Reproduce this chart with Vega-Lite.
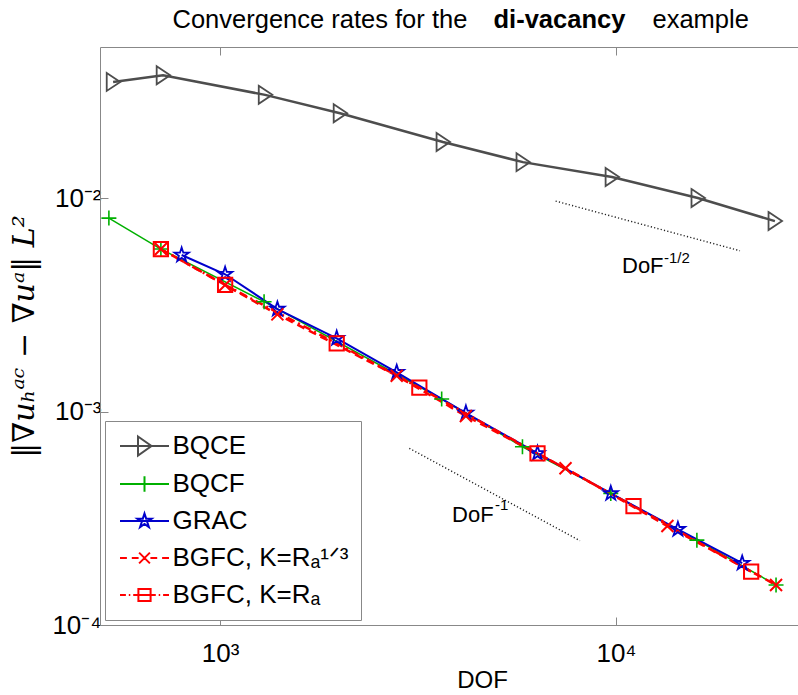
{
  "$schema": "https://vega.github.io/schema/vega-lite/v6.json",
  "width": 698,
  "height": 578,
  "autosize": {"type": "none"},
  "padding": {"left": 100, "top": 47, "right": 0, "bottom": 70},
  "background": "white",
  "config": {
    "view": {"stroke": null},
    "font": "Liberation Sans",
    "axis": {"grid": false, "tickSize": -8, "tickColor": "#888888", "domainColor": "#888888", "labelFont": "Liberation Sans", "labelFontSize": 26, "labelColor": "black", "labelFlush": false, "labelOverlap": false, "titleColor": "black", "titleFontWeight": "normal"},
    "axisLeft": {"labelPadding": 7, "titleFont": "DejaVu Serif", "titleFontSize": 30, "titleFontStyle": "italic", "titlePadding": 12},
    "axisBottom": {"labelPadding": 23, "titleFont": "Liberation Sans", "titleFontSize": 24},
    "axisTop": {"titleFont": "Liberation Sans", "titleFontSize": 25.5}
  },
  "datasets": {
    "series": [
      {"s": "BQCE", "dof": 537, "err": 0.0352},
      {"s": "BQCE", "dof": 718, "err": 0.0378},
      {"s": "BQCE", "dof": 1300, "err": 0.0306},
      {"s": "BQCE", "dof": 2010, "err": 0.0251},
      {"s": "BQCE", "dof": 3656, "err": 0.0184},
      {"s": "BQCE", "dof": 5820, "err": 0.0148},
      {"s": "BQCE", "dof": 9770, "err": 0.0126},
      {"s": "BQCE", "dof": 16100, "err": 0.01004},
      {"s": "BQCE", "dof": 25200, "err": 0.00783},
      {"s": "BQCF", "dof": 524, "err": 0.00809},
      {"s": "BQCF", "dof": 709, "err": 0.00579},
      {"s": "BQCF", "dof": 1292, "err": 0.00328},
      {"s": "BQCF", "dof": 3629, "err": 0.001147},
      {"s": "BQCF", "dof": 5805, "err": 0.000685},
      {"s": "BQCF", "dof": 9703, "err": 0.000414},
      {"s": "BQCF", "dof": 16008, "err": 0.00025},
      {"s": "BQCF", "dof": 25365, "err": 0.000154},
      {"s": "GRAC", "dof": 800, "err": 0.00543},
      {"s": "GRAC", "dof": 1030, "err": 0.00441},
      {"s": "GRAC", "dof": 1396, "err": 0.00303},
      {"s": "GRAC", "dof": 1971, "err": 0.00221},
      {"s": "GRAC", "dof": 2794, "err": 0.00153},
      {"s": "GRAC", "dof": 4178, "err": 0.000986},
      {"s": "GRAC", "dof": 6336, "err": 0.000638},
      {"s": "GRAC", "dof": 9703, "err": 0.000414},
      {"s": "GRAC", "dof": 14333, "err": 0.000281},
      {"s": "GRAC", "dof": 20830, "err": 0.000195},
      {"s": "BGFC, K=Rₐ¹ᐟ³", "dof": 709, "err": 0.00579},
      {"s": "BGFC, K=Rₐ¹ᐟ³", "dof": 1030, "err": 0.00393},
      {"s": "BGFC, K=Rₐ¹ᐟ³", "dof": 1396, "err": 0.00286},
      {"s": "BGFC, K=Rₐ¹ᐟ³", "dof": 2794, "err": 0.001475},
      {"s": "BGFC, K=Rₐ¹ᐟ³", "dof": 4178, "err": 0.000955},
      {"s": "BGFC, K=Rₐ¹ᐟ³", "dof": 7456, "err": 0.000543},
      {"s": "BGFC, K=Rₐ¹ᐟ³", "dof": 13487, "err": 0.000291},
      {"s": "BGFC, K=Rₐ¹ᐟ³", "dof": 25365, "err": 0.000154},
      {"s": "BGFC, K=Rₐ", "dof": 709, "err": 0.00579},
      {"s": "BGFC, K=Rₐ", "dof": 1030, "err": 0.00393},
      {"s": "BGFC, K=Rₐ", "dof": 1971, "err": 0.00209},
      {"s": "BGFC, K=Rₐ", "dof": 3187, "err": 0.001296},
      {"s": "BGFC, K=Rₐ", "dof": 6336, "err": 0.000638},
      {"s": "BGFC, K=Rₐ", "dof": 11072, "err": 0.000361},
      {"s": "BGFC, K=Rₐ", "dof": 21947, "err": 0.000178}
    ],
    "ref": [
      {"g": "half", "dof": 7039, "err": 0.009723},
      {"g": "half", "dof": 20564, "err": 0.005685},
      {"g": "one", "dof": 3006, "err": 0.0006737},
      {"g": "one", "dof": 8111, "err": 0.0002484}
    ],
    "ann": [
      {"dof": 10356, "err": 0.00447, "t": "DoF"},
      {"dof": 3854, "err": 0.000304, "t": "DoF"}
    ],
    "sup": [
      {"dof": 13215, "err": 0.004979, "t": "-1/2"},
      {"dof": 4948, "err": 0.000346, "t": "-1"}
    ]
  },
  "resolve": {"axis": {"x": "independent"}},
  "layer": [
    {
      "data": {"name": "ref"},
      "mark": {"type": "line", "color": "#222222", "strokeWidth": 1.4, "strokeDash": [1.2, 2.2]},
      "encoding": {
        "x": {"field": "dof", "type": "quantitative", "scale": {"type": "log", "domain": [497.6, 28820], "nice": false, "zero": false},
          "axis": {"orient": "top", "values": [1000, 10000], "labels": false, "title": "di-vacancy", "titleFontWeight": "bold", "titleX": 393, "titleY": -20, "titleAlign": "left", "titleBaseline": "alphabetic"}},
        "y": {"field": "err", "type": "quantitative", "scale": {"type": "log", "domain": [0.0001, 0.0513], "nice": false, "zero": false},
          "axis": {"orient": "left", "values": [0.0001, 0.001, 0.01], "labelExpr": "datum.value < 0.0005 ? '10⁻⁴' : (datum.value < 0.005 ? '10⁻³' : '10⁻²')", "title": "‖∇uₕᵃᶜ − ∇uᵃ‖ L²"}},
        "detail": {"field": "g"}
      }
    },
    {
      "encoding": {
        "x": {"field": "dof", "type": "quantitative",
          "axis": {"orient": "bottom", "values": [1000, 10000], "labelExpr": "datum.value < 5000 ? '10³' : '10⁴'", "title": "DOF", "titleX": 382, "titleY": 55, "titleAlign": "center", "titleBaseline": "middle"}},
        "y": {"field": "err", "type": "quantitative",
          "axis": {"orient": "left", "values": [0.0001, 0.001, 0.01], "labelExpr": "datum.value < 0.0005 ? '10⁻⁴' : (datum.value < 0.005 ? '10⁻³' : '10⁻²')", "title": "‖∇uₕᵃᶜ − ∇uᵃ‖ L²"}}
      },
      "layer": [
        {
          "data": {"name": "series"},
          "transform": [{"filter": "datum.s === 'BQCE'"}],
          "mark": {"type": "line", "strokeWidth": 2.5},
          "encoding": {
            "color": {"field": "s", "type": "nominal",
              "scale": {"domain": ["BQCE", "BQCF", "GRAC", "BGFC, K=Rₐ¹ᐟ³", "BGFC, K=Rₐ"], "range": ["#4d4d4d", "#00b000", "#0000cc", "#ff0000", "#ff0000"]},
              "legend": {"title": null, "orient": "bottom-left", "offset": 5, "padding": 12, "strokeColor": "#888888", "fillColor": "white",
                "labelFont": "Liberation Sans", "labelFontSize": 26, "labelColor": "black", "labelLimit": 400, "labelOffset": 15,
                "symbolSize": 400, "symbolOffset": 14.5, "symbolStrokeWidth": 2, "rowPadding": 11, "symbolFillColor": "transparent",
                "encode": {"symbols": {"update": {
                  "fill": {"value": "transparent"},
                  "shape": {"signal": "datum.value === 'BQCE' ? 'M-2.45,0H2.45M-0.65,-0.95L0.7,0L-0.65,0.95Z' : datum.value === 'BQCF' ? 'M-2.45,0H2.45M0,-0.78V0.78' : datum.value === 'GRAC' ? 'M-2.45,0H2.45M0,-0.75L0.168,-0.232L0.713,-0.232L0.272,0.0885L0.441,0.607L0,0.2865L-0.441,0.607L-0.272,0.0885L-0.713,-0.232L-0.168,-0.232Z' : datum.value === 'BGFC, K=Rₐ' ? 'M-2.45,0H-1.86M-1.57,0H-1.42M-1.13,0H-0.61M0.61,0H1.13M1.42,0H1.57M1.86,0H2.45M-0.61,-0.61H0.61V0.61H-0.61ZM-0.61,0H0.61' : 'M-2.45,0H-1.76M-1.27,0H-0.59M0.59,0H1.27M1.76,0H2.45M-0.54,-0.54L0.54,0.54M-0.54,0.54L0.54,-0.54'"}
                }}}}}
          }
        },
        {
          "data": {"name": "series"},
          "transform": [{"filter": "datum.s === 'BQCF'"}],
          "mark": {"type": "line", "strokeWidth": 1.5},
          "encoding": {"color": {"field": "s", "type": "nominal", "legend": null}}
        },
        {
          "data": {"name": "series"},
          "transform": [{"filter": "datum.s === 'GRAC'"}],
          "mark": {"type": "line", "strokeWidth": 2},
          "encoding": {"color": {"field": "s", "type": "nominal", "legend": null}}
        },
        {
          "data": {"name": "series"},
          "transform": [{"filter": "datum.s === 'BGFC, K=Rₐ¹ᐟ³'"}],
          "mark": {"type": "line", "strokeWidth": 2.5, "strokeDash": [8, 5]},
          "encoding": {"color": {"field": "s", "type": "nominal", "legend": null}}
        },
        {
          "data": {"name": "series"},
          "transform": [{"filter": "datum.s === 'BGFC, K=Rₐ'"}],
          "mark": {"type": "line", "strokeWidth": 2.5, "strokeDash": [8, 4, 2, 4]},
          "encoding": {"color": {"field": "s", "type": "nominal", "legend": null}}
        },
        {
          "data": {"name": "series"},
          "transform": [{"filter": "datum.s === 'BQCE'"}],
          "mark": {"type": "point", "filled": false, "size": 225, "strokeWidth": 1.8, "opacity": 1, "color": "#4d4d4d", "shape": "M-0.85,-1.2L0.95,0L-0.85,1.2Z"}
        },
        {
          "data": {"name": "series"},
          "transform": [{"filter": "datum.s === 'BQCF'"}],
          "mark": {"type": "point", "filled": false, "size": 225, "strokeWidth": 1.6, "opacity": 1, "color": "#00b000", "shape": "M-1,0H1M0,-1V1"}
        },
        {
          "data": {"name": "series"},
          "transform": [{"filter": "datum.s === 'GRAC'"}],
          "mark": {"type": "point", "filled": false, "size": 225, "strokeWidth": 1.8, "opacity": 1, "color": "#0000cc", "shape": "M0,-1L0.2245,-0.309L0.951,-0.309L0.3633,0.118L0.588,0.809L0,0.382L-0.588,0.809L-0.3633,0.118L-0.951,-0.309L-0.2245,-0.309Z"}
        },
        {
          "data": {"name": "series"},
          "transform": [{"filter": "datum.s === 'BGFC, K=Rₐ¹ᐟ³'"}],
          "mark": {"type": "point", "filled": false, "size": 225, "strokeWidth": 2, "opacity": 1, "color": "#ff0000", "shape": "M-0.8,-0.8L0.8,0.8M-0.8,0.8L0.8,-0.8"}
        },
        {
          "data": {"name": "series"},
          "transform": [{"filter": "datum.s === 'BGFC, K=Rₐ'"}],
          "mark": {"type": "point", "filled": false, "size": 225, "strokeWidth": 2, "opacity": 1, "color": "#ff0000", "shape": "M-0.95,-0.95H0.95V0.95H-0.95Z"}
        }
      ]
    },
    {
      "data": {"name": "ann"},
      "mark": {"type": "text", "align": "left", "baseline": "alphabetic", "font": "Liberation Sans", "fontSize": 22, "color": "black"},
      "encoding": {
        "x": {"field": "dof", "type": "quantitative",
          "axis": {"orient": "top", "domain": false, "ticks": false, "labels": false, "title": "Convergence rates for the", "titleX": 72, "titleY": -20, "titleAlign": "left", "titleBaseline": "alphabetic"}},
        "y": {"field": "err", "type": "quantitative",
          "axis": {"orient": "left", "values": [0.0001, 0.001, 0.01], "labelExpr": "datum.value < 0.0005 ? '10⁻⁴' : (datum.value < 0.005 ? '10⁻³' : '10⁻²')", "title": "‖∇uₕᵃᶜ − ∇uᵃ‖ L²"}},
        "text": {"field": "t"}
      }
    },
    {
      "data": {"name": "sup"},
      "mark": {"type": "text", "align": "left", "baseline": "alphabetic", "font": "Liberation Sans", "fontSize": 15, "color": "black"},
      "encoding": {
        "x": {"field": "dof", "type": "quantitative",
          "axis": {"orient": "top", "domain": false, "ticks": false, "labels": false, "title": "example", "titleX": 552, "titleY": -20, "titleAlign": "left", "titleBaseline": "alphabetic"}},
        "y": {"field": "err", "type": "quantitative",
          "axis": {"orient": "left", "values": [0.0001, 0.001, 0.01], "labelExpr": "datum.value < 0.0005 ? '10⁻⁴' : (datum.value < 0.005 ? '10⁻³' : '10⁻²')", "title": "‖∇uₕᵃᶜ − ∇uᵃ‖ L²"}},
        "text": {"field": "t"}
      }
    }
  ]
}
